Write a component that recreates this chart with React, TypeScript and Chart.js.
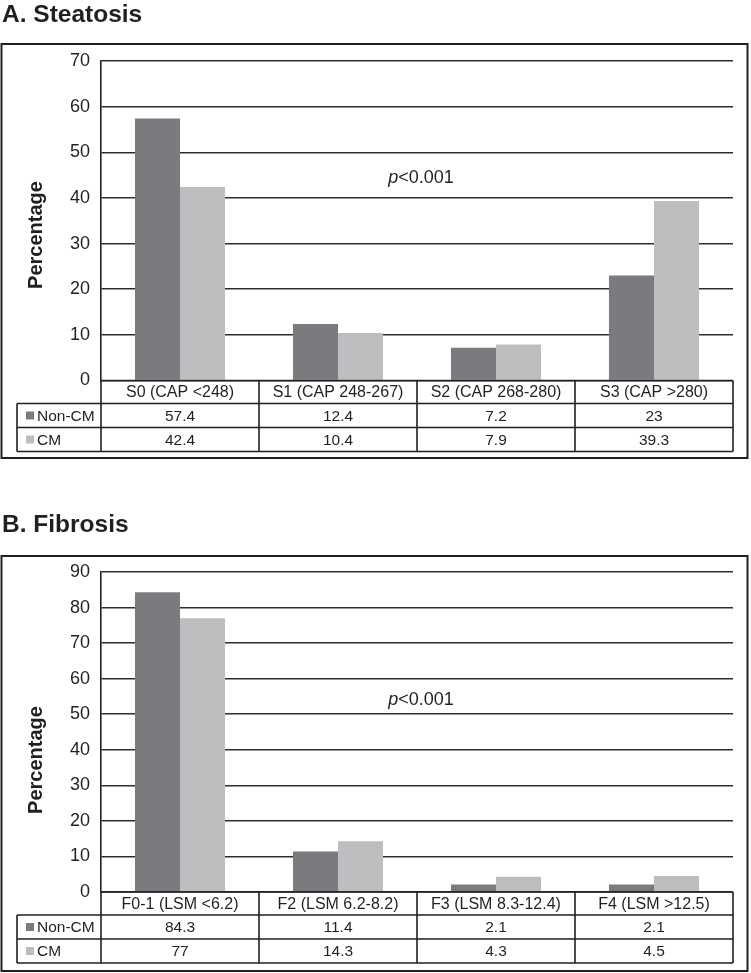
import React, { useEffect, useRef } from "react";
import { Chart, registerables } from "chart.js";

Chart.register(...registerables);

// ---------- data ----------
const seriesNames = ["Non-CM", "CM"];

const steatosisCategories = ["S0 (CAP <248)", "S1 (CAP 248-267)", "S2 (CAP 268-280)", "S3 (CAP >280)"];
const steatosisNonCM = [57.4, 12.4, 7.2, 23];
const steatosisCM = [42.4, 10.4, 7.9, 39.3];
const steatosisMax = 70;

const fibrosisCategories = ["F0-1 (LSM <6.2)", "F2 (LSM 6.2-8.2)", "F3 (LSM 8.3-12.4)", "F4 (LSM >12.5)"];
const fibrosisNonCM = [84.3, 11.4, 2.1, 2.1];
const fibrosisCM = [77, 14.3, 4.3, 4.5];
const fibrosisMax = 90;

const yStep = 10;
const pValueLabel = ["p", "<0.001"];

// ---------- styles ----------
const FONT = '"Liberation Sans", Arial, Helvetica, sans-serif';
const INK = "#231f20";
const DARK = "#7a7b7f";
const LIGHT = "#bebec0";

type PanelProps = {
  title: string;
  categories: string[];
  nonCm: number[];
  cm: number[];
  yMax: number;
  pValueAt: number;
  top: number;
  height: number;
  padTop: number;
  padBottom: number;
  titleBaseline: number;
  boxTop: number;
  boxBottom: number;
  yTitleY: number;
};

const panelPlugin = {
  id: "panelDecor",
  afterDraw(chart: any, _args: any, opts: any) {
    const { ctx, chartArea, scales } = chart;
    const xs = scales.x;
    const ys = scales.y;
    const cats: string[] = opts.categories;
    const n = cats.length;
    const cw = (chartArea.right - chartArea.left) / n;
    ctx.save();

    // panel title
    ctx.fillStyle = INK;
    ctx.font = `bold 24.5px ${FONT}`;
    ctx.textAlign = "left";
    ctx.textBaseline = "alphabetic";
    ctx.fillText(opts.title, 2, opts.titleBaseline);

    // outer box
    ctx.strokeStyle = INK;
    ctx.lineWidth = 2;
    ctx.strokeRect(1.5, opts.boxTop, 746, opts.boxBottom - opts.boxTop);

    // y-axis title
    ctx.save();
    ctx.translate(36, opts.yTitleY);
    ctx.rotate(-Math.PI / 2);
    ctx.font = `bold 20px ${FONT}`;
    ctx.textAlign = "center";
    ctx.textBaseline = "middle";
    ctx.fillText("Percentage", 0, 0);
    ctx.restore();

    // p-value
    const px = xs.getPixelForValue(1.5) + 4;
    const py = ys.getPixelForValue(opts.pValueAt);
    ctx.textBaseline = "middle";
    ctx.font = `italic 18px ${FONT}`;
    const w1 = ctx.measureText(pValueLabel[0]).width;
    ctx.font = `18px ${FONT}`;
    const w2 = ctx.measureText(pValueLabel[1]).width;
    const sx = px - (w1 + w2) / 2;
    ctx.font = `italic 18px ${FONT}`;
    ctx.textAlign = "left";
    ctx.fillText(pValueLabel[0], sx, py);
    ctx.font = `18px ${FONT}`;
    ctx.fillText(pValueLabel[1], sx + w1, py);

    // data table
    const y0 = chartArea.bottom;
    const y1 = y0 + 23;
    const y2 = y1 + 24;
    const y3 = y2 + 24;
    const left = chartArea.left;
    const right = chartArea.right;
    const legLeft = 17;
    ctx.strokeStyle = INK;
    ctx.lineWidth = 1.6;
    ctx.beginPath();
    ctx.moveTo(left, y0); ctx.lineTo(right, y0);
    ctx.moveTo(legLeft, y1); ctx.lineTo(right, y1);
    ctx.moveTo(legLeft, y2); ctx.lineTo(right, y2);
    ctx.moveTo(legLeft, y3); ctx.lineTo(right, y3);
    ctx.moveTo(legLeft, y1); ctx.lineTo(legLeft, y3);
    for (let i = 0; i <= n; i++) {
      const ex = i < n ? xs.getPixelForValue(i) - cw / 2 : xs.getPixelForValue(n - 1) + cw / 2;
      ctx.moveTo(ex, y0); ctx.lineTo(ex, y3);
    }
    ctx.stroke();

    ctx.fillStyle = INK;
    ctx.textAlign = "center";
    ctx.textBaseline = "middle";
    const rowsVals = [opts.nonCm, opts.cm];
    for (let i = 0; i < n; i++) {
      const cx = xs.getPixelForValue(i);
      ctx.font = `16px ${FONT}`;
      ctx.fillText(cats[i], cx, (y0 + y1) / 2 + 1);
      ctx.font = `15.5px ${FONT}`;
      ctx.fillText(String(rowsVals[0][i]), cx, (y1 + y2) / 2 + 1);
      ctx.fillText(String(rowsVals[1][i]), cx, (y2 + y3) / 2 + 1);
    }
    // legend cells
    const colors = [DARK, LIGHT];
    const mids = [(y1 + y2) / 2, (y2 + y3) / 2];
    ctx.font = `15.5px ${FONT}`;
    for (let r = 0; r < 2; r++) {
      ctx.fillStyle = colors[r];
      ctx.fillRect(26, mids[r] - 4, 8, 8);
      ctx.fillStyle = INK;
      ctx.textAlign = "left";
      ctx.fillText(seriesNames[r], 37, mids[r] + 1);
    }
    ctx.restore();
  },
};

function Panel(p: PanelProps) {
  const ref = useRef<HTMLCanvasElement | null>(null);
  useEffect(() => {
    if (!ref.current) return;
    const chart = new Chart(ref.current, {
      type: "bar",
      data: {
        labels: p.categories,
        datasets: [
          {
            label: seriesNames[0],
            data: p.nonCm,
            backgroundColor: DARK,
            borderWidth: 0,
            categoryPercentage: 0.57,
            barPercentage: 1,
          },
          {
            label: seriesNames[1],
            data: p.cm,
            backgroundColor: LIGHT,
            borderWidth: 0,
            categoryPercentage: 0.57,
            barPercentage: 1,
          },
        ],
      },
      options: {
        responsive: false,
        animation: false,
        layout: { padding: { left: 0, right: 18, top: p.padTop, bottom: p.padBottom } },
        plugins: {
          legend: { display: false },
          tooltip: { enabled: false },
          title: { display: false },
          panelDecor: {
            title: p.title,
            categories: p.categories,
            nonCm: p.nonCm,
            cm: p.cm,
            pValueAt: p.pValueAt,
            titleBaseline: p.titleBaseline,
            boxTop: p.boxTop,
            boxBottom: p.boxBottom,
            yTitleY: p.yTitleY,
          },
        } as any,
        scales: {
          x: { display: false },
          y: {
            min: 0,
            max: p.yMax,
            afterFit: (s: any) => {
              s.width = 101;
            },
            ticks: {
              stepSize: yStep,
              color: INK,
              padding: 11,
              font: { family: FONT, size: 18 },
            },
            grid: { color: "#2e2e2e", lineWidth: 1.5, drawTicks: false },
            border: { display: true, color: INK, width: 1.6 },
          },
        },
      },
      plugins: [panelPlugin],
    });
    return () => chart.destroy();
  }, []);
  return (
    <canvas
      ref={ref}
      width={751}
      height={p.height}
      style={{ position: "absolute", left: 0, top: p.top, width: 751, height: p.height, display: "block" }}
    />
  );
}

export default function App() {
  return (
    <div style={{ position: "absolute", left: 0, top: 0, width: 751, height: 973, background: "#fff" }}>
      <Panel
        title="A. Steatosis"
        categories={steatosisCategories}
        nonCm={steatosisNonCM}
        cm={steatosisCM}
        yMax={steatosisMax}
        pValueAt={44.3}
        top={0}
        height={465}
        padTop={61}
        padBottom={465 - 380.5}
        titleBaseline={22}
        boxTop={44}
        boxBottom={458}
        yTitleY={235}
      />
      <Panel
        title="B. Fibrosis"
        categories={fibrosisCategories}
        nonCm={fibrosisNonCM}
        cm={fibrosisCM}
        yMax={fibrosisMax}
        pValueAt={54}
        top={500}
        height={473}
        padTop={72}
        padBottom={473 - 392}
        titleBaseline={32}
        boxTop={56}
        boxBottom={471}
        yTitleY={260}
      />
    </div>
  );
}
